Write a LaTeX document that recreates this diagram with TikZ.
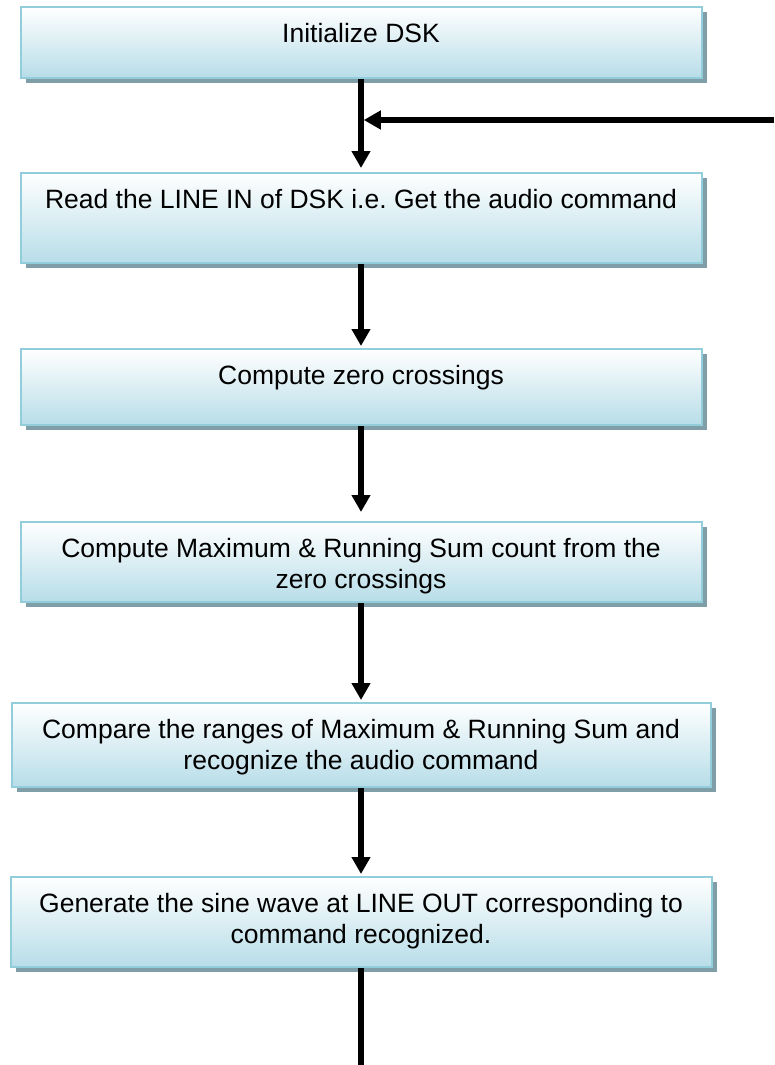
\documentclass[tikz,border=0pt]{standalone}
\usepackage{fontspec}
\setmainfont{Liberation Sans}
\usetikzlibrary{arrows.meta, positioning, shadows}
\definecolor{boxedge}{RGB}{146,205,220}
\definecolor{boxfill}{RGB}{183,221,232}
\definecolor{boxshadow}{RGB}{128,158,168}
\frenchspacing

\begin{document}
\begin{tikzpicture}[
    x=1pt, y=-1pt,
    % Styles for boxes, texts and arrows
    stepbox/.style={draw=boxedge, line width=2pt, rectangle, top color=white, bottom color=boxfill,
        drop shadow={shadow xshift=5pt, shadow yshift=-5pt, fill=boxshadow, opacity=1}},
    steptext/.style={anchor=north, yshift=-17pt, inner sep=0pt, align=center,
        font=\fontsize{26.5}{31}\selectfont},
    flow/.style={line width=5.5pt, -{Triangle[length=17pt, width=18pt]}, shorten >=2pt}
]
    \useasboundingbox (0,0) rectangle (774,1065);

    % --- BOXES ---
    % From top to bottom
    \node [stepbox, minimum width=681pt, minimum height=71pt,
        label={[steptext]north:{Initialize DSK}}] (init) at (361,42.5) {};
    \node [stepbox, minimum width=681pt, minimum height=90pt,
        label={[steptext]north:{Read the LINE IN of DSK i.e. Get the audio command}}] (readin) at (361,218) {};
    \node [stepbox, minimum width=681pt, minimum height=76pt,
        label={[steptext]north:{Compute zero crossings}}] (zerox) at (361,387) {};
    \node [stepbox, minimum width=681pt, minimum height=80pt,
        label={[steptext]north:{Compute Maximum \& Running Sum count from the\\zero crossings}}] (maxsum) at (361,562) {};
    \node [stepbox, minimum width=699pt, minimum height=84pt,
        label={[steptext]north:{Compare the ranges of Maximum \& Running Sum and\\recognize the audio command}}] (compare) at (361,745) {};
    \node [stepbox, minimum width=701pt, minimum height=90pt,
        label={[steptext]north:{Generate the sine wave at LINE OUT corresponding to\\command recognized.}}] (sinegen) at (361,922) {};

    % loop entry and exit points
    \coordinate (loopin) at (774,120);
    \coordinate (exit) at (361,1065);

    % --- CONNECTIONS ---
    \draw [flow, shorten >=4pt] (init) -- (readin);
    \draw [flow] (loopin) -- ([xshift=0.75pt]loopin -| init.south);
    \draw [flow] (readin) -- (zerox);
    \draw [flow, shorten >=9pt] (zerox) -- (maxsum);
    \draw [flow] (maxsum) -- (compare);
    \draw [flow] (compare) -- (sinegen);
    \draw [line width=5.5pt] (sinegen) -- (exit);

\end{tikzpicture}
\end{document}
